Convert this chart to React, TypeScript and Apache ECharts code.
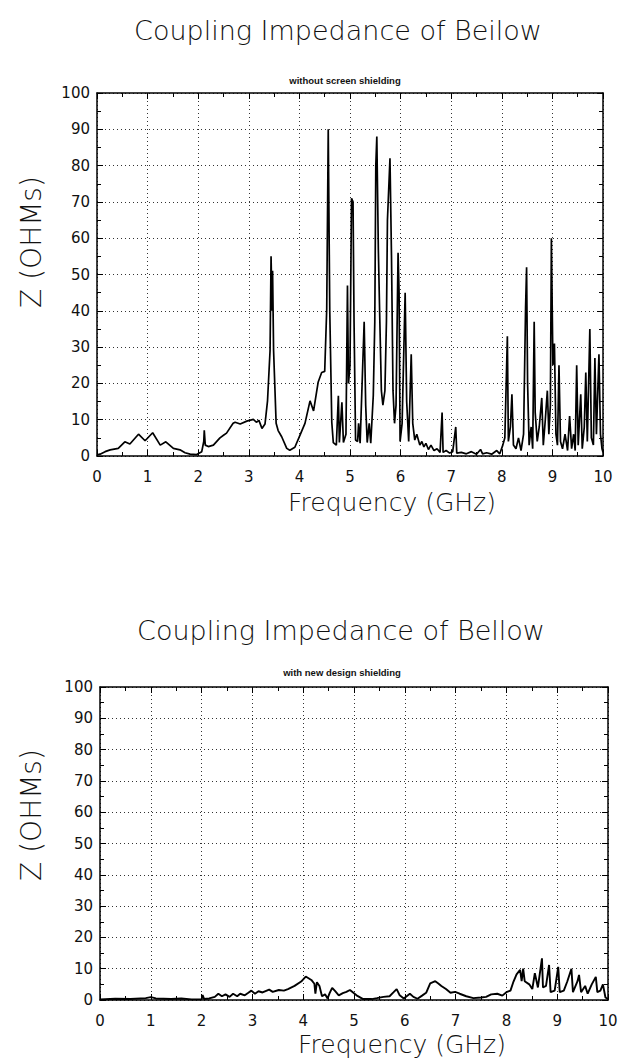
import React, { useEffect, useRef } from "react";
import * as echarts from "echarts";

// ---------- data ----------
const titleTop = "Coupling Impedance of Beilow";
const subtitleTop = "without screen shielding";
const titleBottom = "Coupling Impedance of Bellow";
const subtitleBottom = "with new design shielding";
const yAxisName = "Z (OHMs)";
const xAxisName = "Frequency (GHz)";

const freqTop = [
  0.0, 0.06, 0.16, 0.26, 0.42, 0.55, 0.65, 0.82, 0.95, 1.1, 1.25, 1.36, 1.51, 1.64, 1.74, 1.84, 1.97, 2.07, 2.11, 2.12,
  2.14, 2.2, 2.3, 2.43, 2.5, 2.56, 2.69, 2.73, 2.83, 2.96, 3.09, 3.15, 3.2, 3.26, 3.32, 3.37, 3.42, 3.44, 3.46, 3.47,
  3.49, 3.54, 3.58, 3.65, 3.75, 3.81, 3.91, 4.01, 4.11, 4.21, 4.28, 4.37, 4.44, 4.5, 4.54, 4.57, 4.6, 4.64, 4.67, 4.73,
  4.77, 4.79, 4.84, 4.87, 4.92, 4.95, 4.97, 5.0, 5.03, 5.06, 5.08, 5.11, 5.15, 5.17, 5.2, 5.28, 5.31, 5.34, 5.38, 5.41,
  5.46, 5.49, 5.51, 5.53, 5.56, 5.59, 5.62, 5.65, 5.69, 5.72, 5.74, 5.79, 5.82, 5.85, 5.88, 5.91, 5.95, 5.97, 5.99, 6.03,
  6.09, 6.12, 6.16, 6.21, 6.24, 6.28, 6.32, 6.38, 6.42, 6.46, 6.5, 6.55, 6.6, 6.66, 6.72, 6.78, 6.82, 6.84, 6.9, 6.97,
  7.03, 7.09, 7.11, 7.2, 7.3, 7.4, 7.5, 7.58, 7.62, 7.7, 7.8, 7.9, 7.96, 8.02, 8.06, 8.11, 8.13, 8.17, 8.2, 8.23,
  8.28, 8.33, 8.38, 8.43, 8.47, 8.49, 8.51, 8.54, 8.58, 8.61, 8.64, 8.66, 8.7, 8.74, 8.79, 8.82, 8.86, 8.9, 8.93, 8.96,
  8.98, 9.01, 9.04, 9.07, 9.1, 9.13, 9.16, 9.2, 9.25, 9.3, 9.34, 9.38, 9.42, 9.45, 9.48, 9.51, 9.56, 9.59, 9.63, 9.66,
  9.69, 9.74, 9.77, 9.81, 9.84, 9.87, 9.92, 9.95, 9.98, 10.0,
];
const zTop = [
  0.3, 0.5, 1.2, 1.7, 2.1, 3.9, 3.3, 6.0, 4.2, 6.4, 3.0, 3.9, 2.1, 1.7, 0.9, 0.5, 0.4, 1.2, 4.0, 7.1,
  3.0, 2.6, 3.0, 5.0, 5.7, 6.3, 9.0, 9.3, 8.8, 9.6, 10.1, 9.3, 9.8, 7.6, 8.8, 15.2, 29, 55, 40, 51,
  29, 9, 7, 5.3, 2.1, 1.6, 2.4, 5.7, 9.0, 15.2, 12.4, 20.3, 23, 23.3, 40.5, 90, 40, 9.3, 3.7, 3.0,
  16.6, 3.7, 14.8, 3.7, 6, 47, 20, 25, 71, 70, 37, 4.4, 4, 9, 3.5, 37, 14, 3.7, 9, 3.5,
  16.6, 37, 80, 88, 57, 37, 18, 14, 18, 37, 65, 82, 55, 18, 9, 14, 56, 45, 4, 9,
  45, 15, 4, 28, 9, 4.4, 6, 3, 4, 2.5, 3.5, 1.8, 3, 1.5, 2, 1, 12, 1, 1.5, 0.8,
  1.2, 8, 0.8, 1, 0.6, 1.2, 0.5, 1.8, 0.6, 0.9, 0.5, 1.5, 0.6, 3, 5, 33, 4, 8, 17, 3,
  2, 5, 1.5, 6, 41, 52, 20, 3, 8, 2, 37, 12, 4, 8, 16, 3, 10, 18, 6, 14,
  60, 25, 31, 6, 3, 25, 4, 2, 6, 1.5, 11, 2, 6, 1.5, 25, 3, 17, 2, 8, 23,
  4, 35, 5, 3, 27, 6, 28, 6, 2, 1,
];

const freqBottom = [
  0.0, 0.3, 0.6, 0.9, 1.0, 1.1, 1.4, 1.6, 1.8, 2.0, 2.02, 2.05, 2.15, 2.26, 2.33, 2.4, 2.47, 2.55, 2.62, 2.7,
  2.76, 2.85, 2.92, 2.98, 3.05, 3.12, 3.2, 3.33, 3.4, 3.52, 3.62, 3.7, 3.83, 3.96, 4.05, 4.16, 4.22, 4.24, 4.27, 4.32,
  4.37, 4.43, 4.48, 4.52, 4.57, 4.63, 4.7, 4.78, 4.85, 4.92, 5.05, 5.18, 5.35, 5.45, 5.58, 5.7, 5.78, 5.84, 5.9, 5.98,
  6.1, 6.17, 6.25, 6.34, 6.42, 6.5, 6.6, 6.66, 6.72, 6.81, 6.9, 6.99, 7.08, 7.21, 7.35, 7.5, 7.6, 7.7, 7.82, 7.92,
  8.0, 8.08, 8.14, 8.2, 8.27, 8.3, 8.33, 8.36, 8.45, 8.51, 8.56, 8.62, 8.7, 8.72, 8.78, 8.84, 8.87, 8.95, 9.02, 9.05,
  9.13, 9.2, 9.28, 9.31, 9.4, 9.43, 9.47, 9.55, 9.6, 9.68, 9.76, 9.79, 9.85, 9.9, 9.95, 10.0,
];
const zBottom = [
  0.2, 0.4, 0.3, 0.6, 0.9, 0.5, 0.3, 0.5, 0.2, 0.2, 1.6, 0.3, 0.5, 1.0, 2.0, 1.2, 1.8, 1.0, 2.0, 1.2,
  2.0, 1.5, 2.3, 3.0, 2.0, 2.8, 2.4, 3.3, 2.6, 3.2, 3.0, 3.5, 4.5, 5.9, 7.5, 6.4, 5.2, 2, 5.7, 4.5,
  1.2, 1.8, 0.5, 2.2, 3.9, 2.8, 1.5, 2.2, 2.6, 3.2, 1.5, 0.3, 0.3, 0.6, 1.0, 1.2, 2.5, 3.5, 1.5, 0.5,
  2.0, 1.0, 0.4, 1.4, 2.3, 5.3, 6.0, 5.3, 4.5, 3.5, 2.3, 2.6, 2.0, 1.2, 0.6, 0.8, 1.0, 1.8, 2.0, 1.4,
  2.5, 3.0, 5.9, 8.2, 9.6, 6, 10, 6, 5, 3.5, 8.6, 4, 13.3, 4, 4.5, 11.2, 2.5, 3, 10.6, 2.5,
  3, 6, 10, 2.5, 6, 8, 2.5, 4.5, 2, 5, 7.4, 2.5, 3, 5, 0.8, 0.3,
];

const xTicks = [0, 10, 1];
const yTicks = [0, 100, 10];

// ---------- helpers ----------
const FONT = "DejaVu Sans";

function xAxesFor(gi: number) {
  const common = {
    type: "value",
    gridIndex: gi,
    min: xTicks[0],
    max: xTicks[1],
    interval: xTicks[2],
    axisLine: { show: true, onZero: false, lineStyle: { color: "#000", width: 1.5 } },
    axisTick: { show: true, inside: true, length: 6, lineStyle: { color: "#000", width: 1 } },
    minorTick: { show: true, splitNumber: 2, length: 4, lineStyle: { color: "#000", width: 1 } },
  };
  return [
    {
      ...common,
      position: "bottom",
      axisLabel: { color: "#111", fontSize: 15, fontFamily: FONT, margin: 13 },
      splitLine: { show: true, lineStyle: { color: "#333", type: [1, 3], width: 1 } },
    },
    {
      ...common,
      position: "top",
      axisLabel: { show: false },
      splitLine: { show: false },
    },
  ];
}

function yAxesFor(gi: number) {
  const common = {
    type: "value",
    gridIndex: gi,
    min: yTicks[0],
    max: yTicks[1],
    interval: yTicks[2],
    axisLine: { show: true, onZero: false, lineStyle: { color: "#000", width: 1.5 } },
    axisTick: { show: true, inside: true, length: 6, lineStyle: { color: "#000", width: 1 } },
    minorTick: { show: true, splitNumber: 2, length: 4, lineStyle: { color: "#000", width: 1 } },
  };
  return [
    {
      ...common,
      position: "left",
      axisLabel: { color: "#111", fontSize: 15, fontFamily: FONT, margin: 7 },
      splitLine: { show: true, lineStyle: { color: "#333", type: [1, 3], width: 1 } },
    },
    {
      ...common,
      position: "right",
      axisLabel: { show: false },
      splitLine: { show: false },
    },
  ];
}

function txt(text: string, x: number, y: number, fontSize: number, extra: any = {}) {
  return {
    type: "text",
    x,
    y,
    rotation: extra.rotation || 0,
    style: {
      text,
      fontSize,
      fontFamily: extra.fontFamily || FONT,
      fontWeight: extra.fontWeight || "normal",
      fill: "#111",
      align: "center",
      textAlign: "center",
      verticalAlign: "middle",
      textVerticalAlign: "middle",
    },
  };
}

export default function App() {
  const ref = useRef<HTMLDivElement>(null);

  useEffect(() => {
    document.body.style.margin = "0";
    if (!ref.current) return;
    const chart = echarts.init(ref.current, null, { renderer: "svg" });
    const topData = freqTop.map((f, i) => [f, zTop[i]]);
    const bottomData = freqBottom.map((f, i) => [f, zBottom[i]]);

    chart.setOption({
      animation: false,
      backgroundColor: "#fff",
      grid: [
        { left: 97, top: 93, width: 506, height: 363 },
        { left: 100, top: 687, width: 508, height: 313 },
      ],
      xAxis: [...xAxesFor(0), ...xAxesFor(1)],
      yAxis: [...yAxesFor(0), ...yAxesFor(1)],
      series: [
        {
          type: "line",
          xAxisIndex: 0,
          yAxisIndex: 0,
          data: topData,
          showSymbol: false,
          lineStyle: { color: "#000", width: 1.7 },
          itemStyle: { color: "#000" },
        },
        {
          type: "line",
          xAxisIndex: 2,
          yAxisIndex: 2,
          data: bottomData,
          showSymbol: false,
          lineStyle: { color: "#000", width: 1.9 },
          itemStyle: { color: "#000" },
        },
      ],
      graphic: [
        txt(titleTop, 338, 30, 27, { fontWeight: 200 }),
        txt(subtitleTop, 345, 80, 9.5, { fontFamily: "Liberation Sans", fontWeight: "bold" }),
        txt(yAxisName, 31, 242, 28, { rotation: Math.PI / 2, fontWeight: 200 }),
        txt(xAxisName, 392, 502, 25, { fontWeight: 200 }),
        txt(titleBottom, 341, 630, 27, { fontWeight: 200 }),
        txt(subtitleBottom, 342, 672, 9.5, { fontFamily: "Liberation Sans", fontWeight: "bold" }),
        txt(yAxisName, 31, 815, 28, { rotation: Math.PI / 2, fontWeight: 200 }),
        txt(xAxisName, 402, 1044, 25, { fontWeight: 200 }),
      ],
    });
    return () => chart.dispose();
  }, []);

  return <div ref={ref} style={{ width: 623, height: 1060 }} />;
}
